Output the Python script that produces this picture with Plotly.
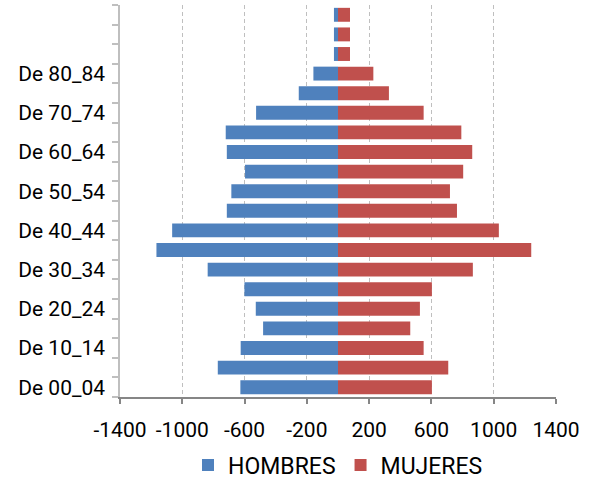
import plotly.graph_objects as go

# Age groups, bottom to top
categories = ["De 00_04", "De 05_09", "De 10_14", "De 15_19", "De 20_24",
              "De 25_29", "De 30_34", "De 35_39", "De 40_44", "De 45_49",
              "De 50_54", "De 55_59", "De 60_64", "De 65_69", "De 70_74",
              "De 75_79", "De 80_84", "De 85_89", "De 90_94", "De 95_99"]
# Only some labels are shown on the axis
shown_labels = ["De 00_04", "", "De 10_14", "", "De 20_24", "", "De 30_34", "",
                "De 40_44", "", "De 50_54", "", "De 60_64", "", "De 70_74", "",
                "De 80_84", "", "", ""]

hombres = [-627, -772, -625, -481, -528, -601, -837, -1166, -1065, -714,
           -685, -597, -714, -721, -526, -252, -158, -26, -26, -26]
mujeres = [603, 708, 550, 464, 526, 603, 866, 1241, 1033, 764,
           719, 804, 862, 792, 550, 327, 227, 77, 77, 77]

x_ticks = [-1400, -1000, -600, -200, 200, 600, 1000, 1400]
x_ticktext = ["-1400", "-1000", "-600", "-200", "200", "600", "1000", "1400"]

FONT = "Roboto"

fig = go.Figure()
fig.add_trace(go.Bar(y=categories, x=hombres, orientation="h", name="HOMBRES",
                     marker=dict(color="#4F81BD", line=dict(width=0))))
fig.add_trace(go.Bar(y=categories, x=mujeres, orientation="h", name="MUJERES",
                     marker=dict(color="#C0504D", line=dict(width=0))))

fig.update_layout(
    width=590, height=479,
    barmode="relative",
    bargap=0.29,
    plot_bgcolor="white",
    paper_bgcolor="white",
    margin=dict(l=120, r=34, t=5, b=82, autoexpand=False),
    font=dict(family=FONT, size=21, color="black"),
    legend=dict(orientation="h", x=0.5, xanchor="center",
                yref="container", y=0.029, yanchor="middle",
                font=dict(family=FONT, size=23, color="black"),
                itemwidth=30, traceorder="normal"),
    showlegend=True,
)

fig.update_xaxes(
    range=[-1400, 1400],
    tickmode="array", tickvals=x_ticks, ticktext=x_ticktext,
    showgrid=True, gridcolor="#BFBFBF", griddash="4px,3px", gridwidth=1,
    zeroline=False,
    showline=True, linecolor="#868686", linewidth=1.5,
    ticks="outside", ticklen=5, tickcolor="#868686", tickwidth=1.5,
    ticklabelstandoff=8,
    tickfont=dict(family=FONT, size=21),
)

fig.update_yaxes(
    type="category",
    categoryorder="array", categoryarray=categories,
    tickmode="array", tickvals=categories, ticktext=shown_labels,
    tickson="boundaries",
    showgrid=False, zeroline=False,
    showline=True, linecolor="#BFBFBF", linewidth=1.5,
    ticks="outside", ticklen=6, tickcolor="#BFBFBF", tickwidth=1.5,
    ticklabelstandoff=9,
    tickfont=dict(family=FONT, size=21),
    range=[-0.5, 19.5],
)

fig.write_html("out.html")
